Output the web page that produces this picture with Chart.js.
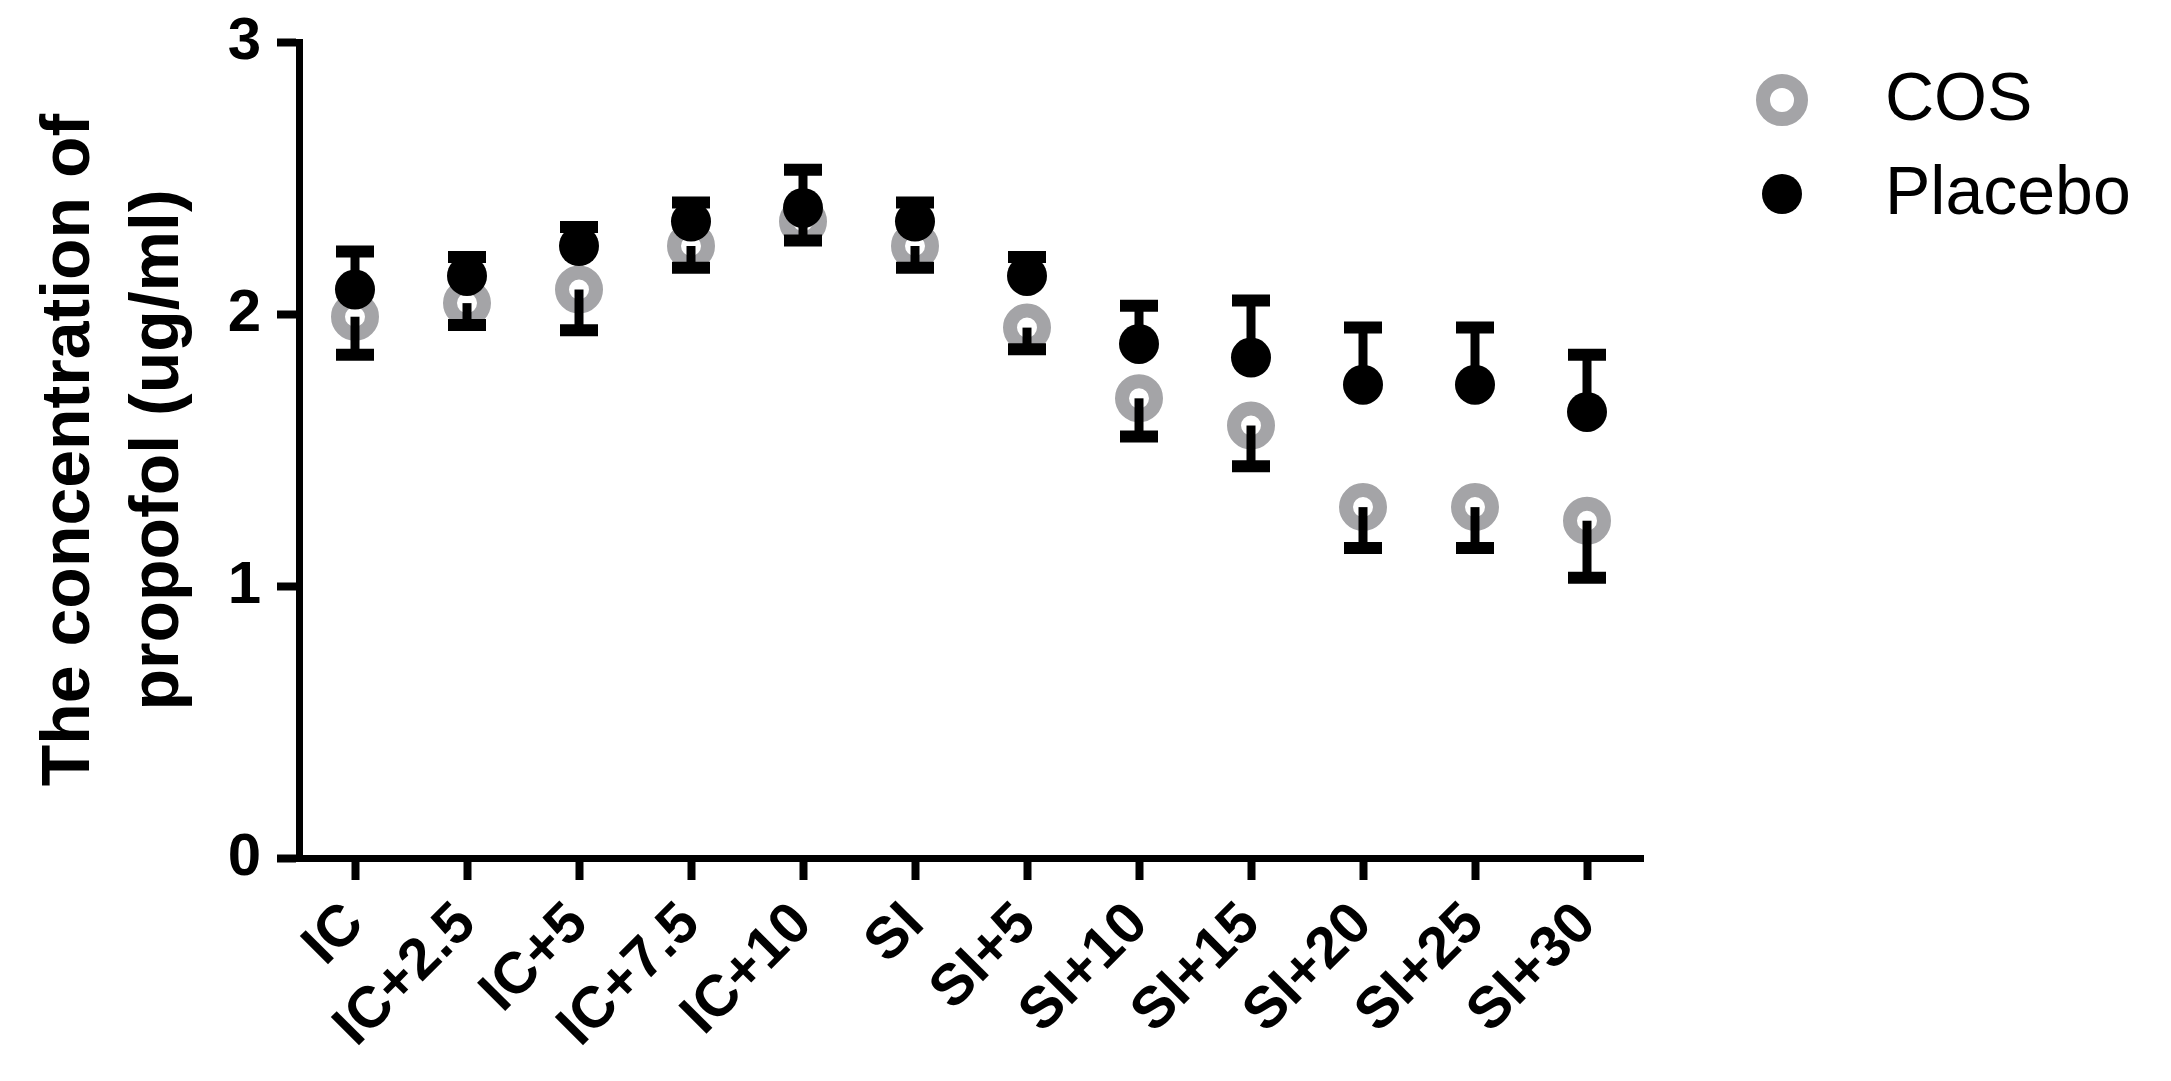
<!DOCTYPE html>
<html>
<head>
<meta charset="utf-8">
<script src="https://cdn.jsdelivr.net/npm/chart.js@4.4.1/dist/chart.umd.min.js"></script>
<style>
html, body { margin: 0; padding: 0; background: #fff; }
canvas { display: block; }
</style>
</head>
<body>
<canvas id="chart" width="2171" height="1081"></canvas>
<script>
const timePoints = ['IC', 'IC+2.5', 'IC+5', 'IC+7.5', 'IC+10', 'SI', 'SI+5', 'SI+10', 'SI+15', 'SI+20', 'SI+25', 'SI+30'];
const cosMean = [1.99, 2.04, 2.09, 2.25, 2.34, 2.25, 1.95, 1.69, 1.59, 1.29, 1.29, 1.24];
const cosSD = [0.14, 0.08, 0.15, 0.08, 0.07, 0.08, 0.08, 0.14, 0.15, 0.15, 0.15, 0.21];
const placeboMean = [2.09, 2.14, 2.25, 2.34, 2.39, 2.34, 2.14, 1.89, 1.84, 1.74, 1.74, 1.64];
const placeboSD = [0.14, 0.07, 0.07, 0.07, 0.14, 0.07, 0.07, 0.14, 0.21, 0.21, 0.21, 0.21];
const yTicks = [0, 1, 2, 3];

const COS_GREY = '#a4a4a7';
const FONT = '"Liberation Sans", Arial, sans-serif';

// SD bars: placebo drawn upwards, COS downwards
const errorBars = {
    id: 'errorBars',
    afterDatasetsDraw(chart) {
        const ctx = chart.ctx;
        const y = chart.scales.y;
        chart.data.datasets.forEach((ds, di) => {
            const meta = chart.getDatasetMeta(di);
            meta.data.forEach((pt, i) => {
                const end = y.getPixelForValue(ds.data[i] + ds.errDir * ds.err[i]);
                ctx.save();
                ctx.strokeStyle = '#000';
                ctx.lineWidth = 9;
                ctx.beginPath();
                ctx.moveTo(pt.x, pt.y);
                ctx.lineTo(pt.x, end);
                ctx.stroke();
                ctx.lineWidth = 12;
                ctx.beginPath();
                ctx.moveTo(pt.x - 19, end);
                ctx.lineTo(pt.x + 19, end);
                ctx.stroke();
                ctx.restore();
            });
        });
    }
};

const sideLegend = {
    id: 'sideLegend',
    afterDraw(chart) {
        const ctx = chart.ctx;
        const mx = chart.chartArea.right + 139;
        const tx = chart.chartArea.right + 242;
        let my = chart.chartArea.top + 58;
        chart.data.datasets.forEach(ds => {
            ctx.save();
            ctx.beginPath();
            if (ds.pointBorderWidth > 0) {
                ctx.arc(mx, my, ds.pointRadius + 2, 0, Math.PI * 2);
                ctx.fillStyle = ds.pointBackgroundColor;
                ctx.fill();
                ctx.lineWidth = ds.pointBorderWidth;
                ctx.strokeStyle = ds.pointBorderColor;
                ctx.stroke();
            } else {
                ctx.arc(mx, my, ds.pointRadius, 0, Math.PI * 2);
                ctx.fillStyle = ds.pointBackgroundColor;
                ctx.fill();
            }
            ctx.fillStyle = '#000';
            ctx.font = '68px ' + FONT;
            ctx.textBaseline = 'alphabetic';
            ctx.textAlign = 'left';
            ctx.fillText(ds.label, tx, my + 20);
            ctx.restore();
            my += 94;
        });
    }
};

new Chart(document.getElementById('chart'), {
    type: 'line',
    data: {
        labels: timePoints,
        datasets: [
            {
                label: 'COS',
                data: cosMean,
                err: cosSD,
                errDir: -1,
                showLine: false,
                pointRadius: 17,
                pointBorderWidth: 14,
                pointBorderColor: COS_GREY,
                pointBackgroundColor: '#fff',
                order: 1
            },
            {
                label: 'Placebo',
                data: placeboMean,
                err: placeboSD,
                errDir: 1,
                showLine: false,
                pointRadius: 20,
                pointBorderWidth: 0,
                pointBorderColor: '#000',
                pointBackgroundColor: '#000',
                order: 0
            }
        ]
    },
    options: {
        responsive: false,
        animation: false,
        events: [],
        layout: { padding: { top: 42, right: 528, left: 0, bottom: 0 } },
        plugins: {
            legend: { display: false },
            tooltip: { enabled: false }
        },
        scales: {
            x: {
                type: 'category',
                offset: true,
                afterFit(scale) { scale.height = 223; },
                grid: { drawOnChartArea: false, tickLength: 22, tickWidth: 8, color: '#000' },
                border: { color: '#000', width: 7 },
                ticks: {
                    color: '#000',
                    font: { family: FONT, size: 58, weight: 'bold' },
                    minRotation: 45,
                    maxRotation: 45,
                    padding: 10
                }
            },
            y: {
                min: 0,
                max: 3,
                afterFit(scale) {
                    scale.width = 299;
                    scale.paddingTop = 0;
                    scale.paddingBottom = 0;
                },
                afterBuildTicks(scale) { scale.ticks = yTicks.map(v => ({ value: v })); },
                grid: { drawOnChartArea: false, tickLength: 22, tickWidth: 8, color: '#000' },
                border: { color: '#000', width: 7 },
                ticks: {
                    color: '#000',
                    font: { family: FONT, size: 60, weight: 'bold' },
                    padding: 16
                },
                title: {
                    display: true,
                    text: ['The concentration of', 'propofol (ug/ml)'],
                    color: '#000',
                    font: { family: FONT, size: 68, weight: 'bold', lineHeight: 1.32 },
                    padding: { top: 25, bottom: 0 }
                }
            }
        }
    },
    plugins: [errorBars, sideLegend]
});
</script>
</body>
</html>
